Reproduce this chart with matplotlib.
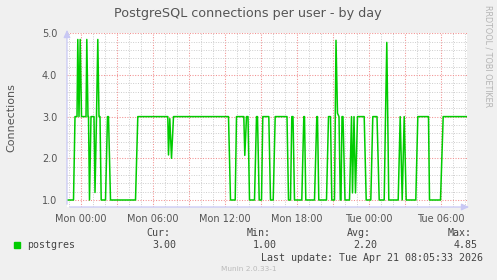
import matplotlib
matplotlib.use("Agg")
import matplotlib.pyplot as plt
from matplotlib.ticker import MultipleLocator

W, H = 497, 280

# hours since Mon 00:00, connections (breakpoints)
hours = [-1.208, -0.625, -0.5, -0.333, -0.267, -0.167, -0.067, 0.042, 0.417, 0.483,
         0.583, 0.625, 0.708, 0.833, 1.083, 1.167, 1.292, 1.4, 1.5, 1.583,
         1.683, 2.042, 2.208, 2.292, 2.458, 4.542, 4.733, 7.233, 7.292, 7.4,
         7.542, 7.708, 12.292, 12.458, 12.85, 12.958, 13.567, 13.65, 13.792, 13.917,
         14.042, 14.458, 14.625, 14.708, 14.85, 15.042, 15.15, 15.65, 15.792, 16.017,
         16.183, 17.167, 17.292, 17.458, 17.567, 17.667, 17.792, 18.4, 18.567, 18.625,
         18.733, 19.458, 19.65, 19.708, 19.817, 20.458, 20.625, 20.792, 20.9, 21.125,
         21.25, 21.375, 21.5, 21.608, 21.667, 21.75, 21.833, 22.0, 22.375, 22.542,
         22.625, 22.75, 22.875, 23.042, 23.6, 23.767, 24.15, 24.317, 24.667, 24.85,
         25.267, 25.375, 25.483, 25.65, 26.433, 26.6, 26.767, 26.933, 27.1, 27.9,
         28.067, 28.958, 29.042, 29.958, 30.183, 32.125]
postgres = [1.0, 1.0, 3.0, 3.0, 4.85, 3.0, 4.85, 3.0, 3.0, 4.85,
            3.0, 3.0, 1.0, 3.0, 3.0, 1.18, 3.0, 4.85, 3.0, 3.0,
            1.0, 1.0, 3.0, 3.0, 1.0, 1.0, 3.0, 3.0, 2.08, 2.95,
            2.0, 3.0, 3.0, 1.0, 1.0, 3.0, 3.0, 2.07, 3.0, 3.0,
            1.0, 1.0, 3.0, 3.0, 1.0, 1.0, 3.0, 3.0, 1.0, 1.0,
            3.0, 3.0, 1.0, 1.0, 3.0, 3.0, 1.0, 1.0, 3.0, 3.0,
            1.0, 1.0, 3.0, 3.0, 1.0, 1.0, 3.0, 3.0, 1.0, 1.0,
            4.83, 3.08, 3.0, 1.0, 1.0, 3.0, 3.0, 1.0, 1.0, 3.0,
            1.17, 3.0, 1.17, 3.0, 3.0, 1.0, 1.0, 3.0, 3.0, 1.0,
            1.0, 3.0, 4.78, 1.0, 1.0, 3.0, 1.0, 3.0, 1.0, 1.0,
            3.0, 3.0, 1.0, 1.0, 3.0, 3.0]

x_ticks = [0, 3, 6, 9, 12, 15, 18, 21, 24, 27, 30]
x_labels = ["Mon 00:00", "", "Mon 06:00", "", "Mon 12:00", "", "Mon 18:00", "",
            "Tue 00:00", "", "Tue 06:00"]
y_ticks = [1.0, 2.0, 3.0, 4.0, 5.0]

stats_names = ["Cur:", "Min:", "Avg:", "Max:"]
stats_values = ["3.00", "1.00", "2.20", "4.85"]

txt = "#555555"
fig = plt.figure(figsize=(W / 100, H / 100), dpi=100, facecolor="#F0F0F0")
ax = fig.add_axes([67 / W, 73 / H, 400 / W, 174 / H])
ax.set_facecolor("white")
ax.set_xlim(-1.167, 32.167)
ax.set_ylim(0.832, 5.005)

ax.plot(hours, postgres, color="#00CC00", lw=1.1, zorder=3)

ax.set_xticks(x_ticks)
ax.set_xticklabels(x_labels)
ax.xaxis.set_minor_locator(MultipleLocator(1))
ax.set_yticks(y_ticks)
ax.set_yticklabels([f"{v:.1f}" for v in y_ticks])
ax.yaxis.set_minor_locator(MultipleLocator(0.2))
ax.grid(which="minor", color="#CDCDCD", ls=(0, (1, 1.5)), lw=0.7)
ax.grid(which="major", color="#F29090", ls=(0, (1, 1.5)), lw=0.75)
ax.set_axisbelow(True)
ax.tick_params(which="both", length=0, labelsize=7, labelcolor=txt)
ax.tick_params(axis="y", pad=7)
ax.tick_params(axis="x", pad=5)
for s in ax.spines.values():
    s.set_visible(False)

# axis arrows
arr = dict(arrowstyle="-|>,head_length=0.45,head_width=0.2", color="#C8C8F4", lw=0.9)
ax.annotate("", xy=(472 / W, 73 / H), xytext=(67 / W, 73 / H),
            xycoords="figure fraction", arrowprops=arr)
ax.annotate("", xy=(67 / W, 1 - 27 / H), xytext=(67 / W, 73 / H),
            xycoords="figure fraction", arrowprops=arr)


def ftext(x, y, s, **kw):
    fig.text(x / W, 1 - y / H, s, **kw)


ftext(248, 13, "PostgreSQL connections per user - by day", ha="center", va="center",
      fontsize=9.2, color=txt)
ftext(11, 118, "Connections", rotation=90, ha="center", va="center", fontsize=8, color=txt)
ftext(488, 5, "RRDTOOL / TOBI OETIKER", rotation=270, ha="center", va="top",
      fontsize=5.8, color="#B4B4B4")

mono = dict(family="DejaVu Sans Mono", fontsize=7.2, color="#444444", va="center")
fig.patches.append(plt.Rectangle((14 / W, 1 - 248 / H), 6 / W, 6 / H,
                                 transform=fig.transFigure, color="#00CC00"))
ftext(27, 245, "postgres", **mono)
for i, (n, v) in enumerate(zip(stats_names, stats_values)):
    ftext(146 + 100.6 * i, 233, n, **mono)
    ftext(152 + 100.6 * i, 245.5, v, **mono)
ftext(483, 258, "Last update: Tue Apr 21 08:05:33 2026", ha="right", **mono)
ftext(248.5, 269, "Munin 2.0.33-1", ha="center", va="center", fontsize=5.3, color="#BBBBBB")

fig.savefig("out.png", dpi=100, facecolor=fig.get_facecolor())
